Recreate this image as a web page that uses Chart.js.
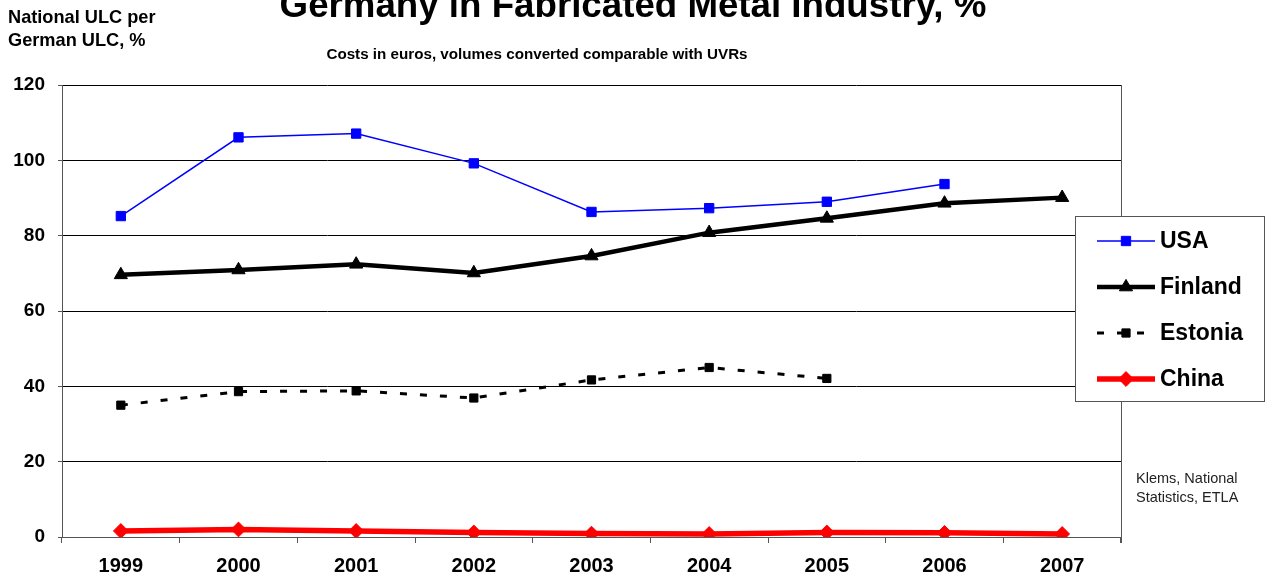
<!DOCTYPE html>
<html>
<head>
<meta charset="utf-8">
<title>ULC relative to Germany, fabricated metal</title>
<script src="https://cdn.jsdelivr.net/npm/chart.js@4/dist/chart.umd.min.js"></script>
<style>
    html, body { margin: 0; padding: 0; background: #fff; }
    #wrap { position: relative; width: 1271px; height: 578px; overflow: hidden; font-family: Arial, 'Liberation Sans', sans-serif; }
    #wrap canvas { position: absolute; left: 0; top: 0; }
    .txt { position: absolute; white-space: nowrap; color: #000; }
    #title { left: 633px; top: -13px; transform: translateX(-50%); font-size: 36.7px; font-weight: bold; line-height: 36px; }
    #subtitle { left: 537px; top: 46px; transform: translateX(-50%); font-size: 15.2px; font-weight: bold; line-height: 15px; }
    #ytitle { left: 8px; top: 6px; font-size: 18.2px; font-weight: bold; line-height: 23px; }
    #note { left: 1136px; top: 469px; font-size: 14.5px; line-height: 19px; color: #222; }
</style>
</head>
<body>
<div id="wrap">
    <canvas id="chart" width="1271" height="578"></canvas>
    <div class="txt" id="title">Germany in Fabricated Metal Industry, %</div>
    <div class="txt" id="subtitle">Costs in euros, volumes converted comparable with UVRs</div>
    <div class="txt" id="ytitle">National ULC per<br>German ULC, %</div>
    <div class="txt" id="note">Klems, National<br>Statistics, ETLA</div>
</div>
<script>
// unit labour costs relative to Germany, %
const years = ['1999', '2000', '2001', '2002', '2003', '2004', '2005', '2006', '2007'];
const usa = [85.2, 106.1, 107.1, 99.2, 86.3, 87.3, 89.0, 93.7, null];
const finland = [69.6, 70.9, 72.4, 70.1, 74.6, 80.8, 84.6, 88.6, 90.1];
const estonia = [35.0, 38.6, 38.8, 36.9, 41.7, 45.0, 42.1, null, null];
const china = [1.6, 2.0, 1.6, 1.2, 0.9, 0.8, 1.2, 1.1, 0.8];
const yTicks = [0, 20, 40, 60, 80, 100, 120];

const FONT = "Arial, 'Liberation Sans', sans-serif";
const AXIS = '#555';

// boxed legend on the right, overlapping the plot
const legendBox = { left: 1075, top: 216, width: 189, height: 185, rowTop: 241, rowStep: 46 };

const boxLegend = {
    id: 'boxLegend',
    afterDraw(chart) {
        const ctx = chart.ctx;
        const b = legendBox;
        ctx.save();
        ctx.fillStyle = '#fff';
        ctx.fillRect(b.left, b.top, b.width, b.height);
        ctx.strokeStyle = '#555';
        ctx.lineWidth = 1;
        ctx.strokeRect(b.left + 0.5, b.top + 0.5, b.width, b.height);

        chart.data.datasets.forEach((ds, i) => {
            const y = b.rowTop + i * b.rowStep;
            ctx.strokeStyle = ds.borderColor;
            ctx.lineWidth = ds.borderWidth;
            ctx.setLineDash(ds.borderDash || []);
            ctx.lineCap = 'butt';
            ctx.beginPath();
            ctx.moveTo(1097, y);
            ctx.lineTo(1155, y);
            ctx.stroke();
            ctx.setLineDash([]);
            ctx.fillStyle = ds.pointBackgroundColor;
            ctx.strokeStyle = ds.pointBorderColor;
            ctx.lineWidth = ds.pointBorderWidth;
            Chart.helpers.drawPoint(ctx, {
                pointStyle: ds.pointStyle,
                radius: ds.pointRadius,
                borderWidth: ds.pointBorderWidth,
                rotation: 0,
            }, 1126, y);

            ctx.fillStyle = '#000';
            ctx.font = 'bold 23px ' + FONT;
            ctx.textBaseline = 'middle';
            ctx.textAlign = 'left';
            ctx.fillText(ds.label, 1160, y + 1);
        });
        ctx.restore();
    },
};

// right-hand frame edge of the plot area
const plotFrame = {
    id: 'plotFrame',
    beforeDatasetsDraw(chart) {
        const { ctx, chartArea: a } = chart;
        ctx.save();
        ctx.strokeStyle = AXIS;
        ctx.lineWidth = 1;
        ctx.beginPath();
        ctx.moveTo(Math.round(a.right) + 0.5, a.top);
        ctx.lineTo(Math.round(a.right) + 0.5, a.bottom + 6);
        ctx.stroke();
        ctx.restore();
    },
};

function series(label, data, color, width, style, radius, dash) {
    return {
        label,
        data,
        borderColor: color,
        borderWidth: width,
        borderDash: dash || [],
        pointStyle: style,
        pointRadius: radius,
        pointHoverRadius: radius,
        pointBackgroundColor: color,
        pointBorderColor: color,
        pointBorderWidth: 1,
        tension: 0,
        spanGaps: false,
        fill: false,
    };
}

const ctx = document.getElementById('chart').getContext('2d');
new Chart(ctx, {
    type: 'line',
    data: {
        labels: years,
        datasets: [
            series('USA', usa, '#0000ff', 1.5, 'rect', 6.6),
            series('Finland', finland, '#000000', 4.5, 'triangle', 7.6),
            series('Estonia', estonia, '#000000', 3, 'rect', 5.8, [7, 13]),
            series('China', china, '#ff0000', 5.5, 'rectRot', 7.4),
        ],
    },
    options: {
        responsive: false,
        animation: false,
        devicePixelRatio: 1,
        layout: { padding: { top: 85, right: 150, bottom: 0, left: 0 } },
        plugins: {
            legend: { display: false },
            title: { display: false },
            tooltip: { enabled: false },
        },
        scales: {
            x: {
                offset: true,
                grid: {
                    offset: true,
                    drawOnChartArea: false,
                    drawTicks: true,
                    tickLength: 6,
                    color: AXIS,
                },
                border: { color: AXIS, width: 1 },
                ticks: {
                    color: '#000',
                    padding: 11,
                    maxRotation: 0,
                    autoSkip: false,
                    font: { family: FONT, size: 20, weight: 'bold' },
                },
                afterFit(scale) { scale.height = 41; },
            },
            y: {
                min: 0,
                max: 120,
                afterBuildTicks(scale) { scale.ticks = yTicks.map(v => ({ value: v })); },
                grid: {
                    color: '#000',
                    lineWidth: 1,
                    drawTicks: true,
                    tickLength: 4,
                    tickColor: AXIS,
                },
                border: { color: AXIS, width: 1 },
                ticks: {
                    color: '#000',
                    padding: 13,
                    font: { family: FONT, size: 19, weight: 'bold' },
                },
                afterFit(scale) { scale.width = 62; },
            },
        },
    },
    plugins: [plotFrame, boxLegend],
});
</script>
</body>
</html>
